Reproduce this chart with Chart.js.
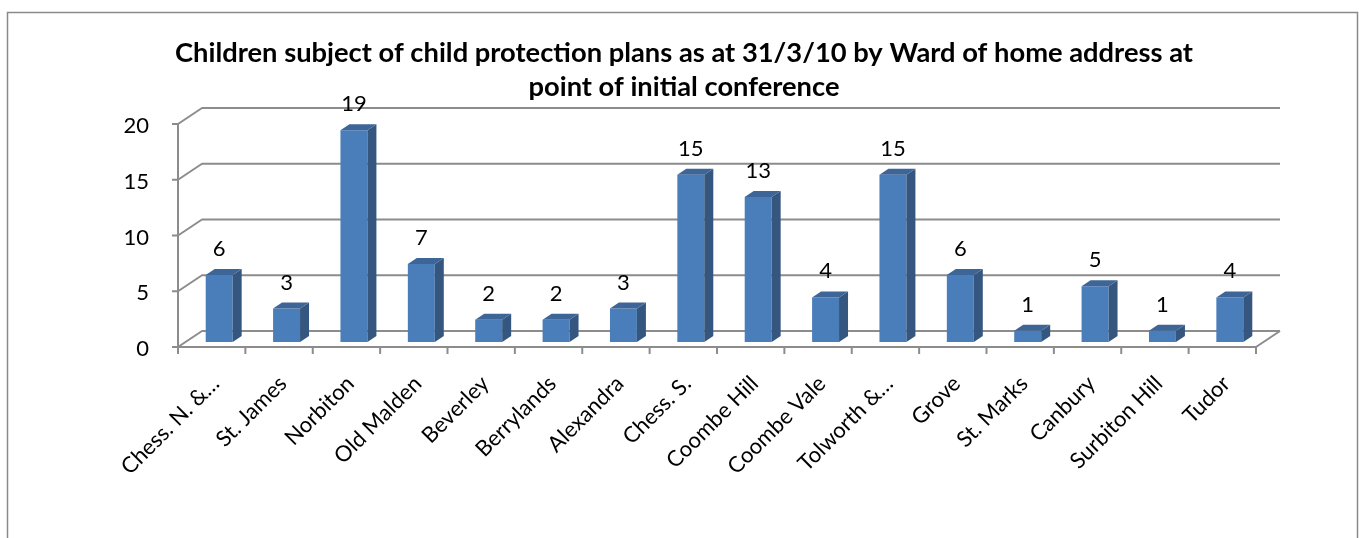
<!DOCTYPE html>
<html>
<head>
<meta charset="utf-8">
<script src="https://cdn.jsdelivr.net/npm/chart.js@4.4.0/dist/chart.umd.min.js"></script>
<style>
  html, body { margin: 0; padding: 0; background: #fff; }
  canvas { display: block; }
</style>
</head>
<body>
<canvas id="myChart" width="1359" height="538"></canvas>
<script>
const wards = [
  "Chess. N. &\u2026", "St. James", "Norbiton", "Old Malden", "Beverley",
  "Berrylands", "Alexandra", "Chess. S.", "Coombe Hill", "Coombe Vale",
  "Tolworth &\u2026", "Grove", "St. Marks", "Canbury", "Surbiton Hill", "Tudor"
];
const children = [6, 3, 19, 7, 2, 2, 3, 15, 13, 4, 15, 6, 1, 5, 1, 4];
const yTicks = [0, 5, 10, 15, 20];
const titleLines = [
  "Children subject of child protection plans as at 31/3/10 by Ward of home address at",
  "point of initial conference"
];

const FONT = "Lato, 'Open Sans', sans-serif";
const gridColor = "#8c8c8c";

// offsets of the front and back planes relative to the bar plane
const front = { dx: -7.5, dy: 5 };
const back = { dx: 16.5, dy: -11 };
const depth = { dx: 9, dy: -6 };

const frame3d = {
  id: "frame3d",
  beforeDraw(chart) {
    const ctx = chart.ctx;
    ctx.save();
    ctx.fillStyle = "#fff";
    ctx.fillRect(0, 0, chart.width, chart.height);
    ctx.strokeStyle = "#8a8a8a";
    ctx.lineWidth = 1.5;
    ctx.strokeRect(7.5, 12.5, 1350, 560);

    // title, squeezed to the width of the original
    ctx.fillStyle = "#000";
    ctx.font = "bold 27px " + FONT;
    ctx.textAlign = "center";
    ctx.textBaseline = "alphabetic";
    const widths = [1018, 311];
    const bases = [62, 96];
    titleLines.forEach((t, i) => {
      const w = ctx.measureText(t).width;
      const s = widths[i] / w;
      ctx.save();
      ctx.translate(684, bases[i]);
      ctx.scale(s, 1);
      ctx.fillText(t, 0, 0);
      ctx.restore();
    });
    ctx.restore();
  },
  beforeDatasetsDraw(chart) {
    const { ctx, scales: { x, y } } = chart;
    const left = x.left, right = x.right;
    const y0 = y.getPixelForValue(0);
    const yTop = y.getPixelForValue(yTicks[yTicks.length - 1]);
    ctx.save();
    ctx.strokeStyle = gridColor;
    ctx.lineWidth = 2;
    ctx.lineJoin = "round";
    yTicks.forEach(v => {
      const py = y.getPixelForValue(v);
      ctx.beginPath();
      ctx.moveTo(left + front.dx - 6, py + front.dy);
      ctx.lineTo(left + front.dx, py + front.dy);
      ctx.lineTo(left + back.dx, py + back.dy);
      ctx.lineTo(right + back.dx, py + back.dy);
      ctx.stroke();
    });
    // front vertical axis and floor
    ctx.beginPath();
    ctx.moveTo(left + front.dx, yTop + front.dy);
    ctx.lineTo(left + front.dx, y0 + front.dy);
    ctx.lineTo(right + front.dx, y0 + front.dy);
    ctx.lineTo(right + back.dx, y0 + back.dy);
    ctx.stroke();
    // category ticks
    const step = (right - left) / wards.length;
    for (let i = 0; i <= wards.length; i++) {
      const px = left + i * step + front.dx;
      ctx.beginPath();
      ctx.moveTo(px, y0 + front.dy);
      ctx.lineTo(px, y0 + front.dy + 7);
      ctx.stroke();
    }
    // y tick labels
    ctx.fillStyle = "#000";
    ctx.font = "22px " + FONT;
    ctx.textAlign = "right";
    ctx.textBaseline = "middle";
    yTicks.forEach(v => {
      ctx.fillText(String(v), left + front.dx - 29, y.getPixelForValue(v) + front.dy + 2);
    });
    ctx.restore();
  },
  afterDatasetsDraw(chart) {
    const { ctx, scales: { x } } = chart;
    const meta = chart.getDatasetMeta(0);
    ctx.save();
    meta.data.forEach((bar, i) => {
      const { x: cx, y: top, base, width } = bar.getProps(["x", "y", "base", "width"], true);
      const l = cx - width / 2, r = cx + width / 2;
      // side face
      ctx.fillStyle = "#34567f";
      ctx.beginPath();
      ctx.moveTo(r, base);
      ctx.lineTo(r + depth.dx, base + depth.dy);
      ctx.lineTo(r + depth.dx, top + depth.dy);
      ctx.lineTo(r, top);
      ctx.closePath();
      ctx.fill();
      // top face
      ctx.fillStyle = "#3d6597";
      ctx.beginPath();
      ctx.moveTo(l, top);
      ctx.lineTo(l + depth.dx, top + depth.dy);
      ctx.lineTo(r + depth.dx, top + depth.dy);
      ctx.lineTo(r, top);
      ctx.closePath();
      ctx.fill();
      // value label
      ctx.fillStyle = "#000";
      ctx.font = "22px " + FONT;
      ctx.textAlign = "center";
      ctx.textBaseline = "alphabetic";
      ctx.fillText(String(children[i]), cx, top - 19);
    });
    // rotated category labels
    ctx.font = "22px " + FONT;
    ctx.textAlign = "right";
    ctx.textBaseline = "middle";
    wards.forEach((w, i) => {
      const px = x.getPixelForValue(i) + front.dx + 4;
      ctx.save();
      ctx.translate(px, 380);
      ctx.rotate(-Math.PI / 4);
      ctx.fillText(w, 0, 0);
      ctx.restore();
    });
    ctx.restore();
  }
};

new Chart(document.getElementById("myChart").getContext("2d"), {
  type: "bar",
  data: {
    labels: wards,
    datasets: [{
      data: children,
      backgroundColor: "#4a7ebb",
      borderWidth: 0,
      barPercentage: 0.4,
      categoryPercentage: 1
    }]
  },
  options: {
    responsive: false,
    animation: false,
    devicePixelRatio: 1,
    layout: { padding: { left: 185.5, right: 95.5, top: 119, bottom: 196 } },
    plugins: { legend: { display: false }, title: { display: false }, tooltip: { enabled: false } },
    scales: {
      x: { display: false },
      y: { display: false, min: 0, max: 20 }
    }
  },
  plugins: [frame3d]
});
</script>
</body>
</html>
